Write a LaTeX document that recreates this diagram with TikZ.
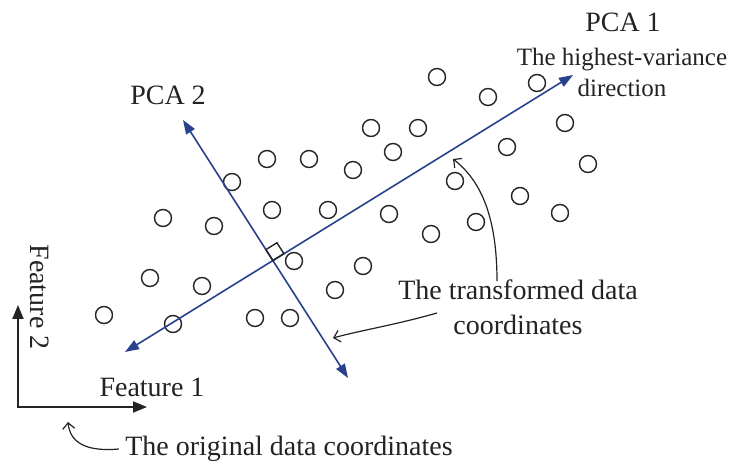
\documentclass[tikz,border=0pt]{standalone}
\usepackage{fontspec}
\setmainfont{Liberation Serif}
\usetikzlibrary{positioning,calc,intersections,arrows.meta}
\tikzset{>=stealth}
\definecolor{pcablue}{RGB}{38,66,140}
\definecolor{ink}{RGB}{35,35,35}
\tikzset{
  pt/.style={draw=ink,line width=0.7pt},
  pcaaxis/.style={pcablue,line width=0.8pt,{Triangle[length=7pt,width=5pt]}-{Triangle[length=7pt,width=5pt]}},
  featax/.style={ink,line width=1pt,{Triangle[length=7pt,width=5.5pt]}-{Triangle[length=7pt,width=5.5pt]}},
  note/.style={ink,line width=0.6pt,-{Straight Barb[length=3pt,width=6pt]}},
  lbl/.style={text=ink,font=\fontsize{14}{15.5}\selectfont,inner sep=0pt,align=center}
}
\begin{document}
\begin{tikzpicture}[x=0.5pt,y=-0.5pt]
\useasboundingbox (0,0) rectangle (735,465);
% Data points
\foreach \x/\y in {437/77,488/97,537/83,371/128,418/128,393/152,565/123,507/147,
                   267/159,309/159,353/170,588/164,455/181,232/182,520/196,
                   163/218,214/226,272/210,328/210,389/214,560/213,476/222,431/234,
                   150/278,202/286,294/261,363/266,335/290,104/315,173/324,255/318,290/318}
  \draw[pt] (\x,\y) circle[radius=4.25pt];
% PCA axes
\coordinate (a1) at (125,352);
\coordinate (b1) at (573,75);
\coordinate (a2) at (183,120);
\coordinate (b2) at (348,378);
\draw[pcaaxis,name path=pcaone] (a1) -- (b1);
\draw[pcaaxis,name path=pcatwo] (a2) -- (b2);
\path[name intersections={of=pcaone and pcatwo,by=o}];
% Right-angle mark
\coordinate (s1) at ($(o)!6.5pt!(b1)$);
\coordinate (s2) at ($(o)!6.5pt!(a2)$);
\draw[ink,line width=0.7pt] (o) -- (s1) -- ($(s1)+(s2)-(o)$) -- (s2) -- cycle;
% Original feature axes
\coordinate (org) at (18,407);
\coordinate (x1) at (147,407);
\coordinate (x2) at (18,305);
\draw[featax] (x2) -- (org) -- (x1);
% Labels
\node[lbl] (pca1) at (623,22) {PCA 1};
\node[lbl,font=\fontsize{12.5}{15.5}\selectfont] (hv) at (622,72) {The highest-variance\\direction};
\node[lbl] (pca2) at (168,95) {PCA 2};
\node[lbl] (td) at (518,307) {The transformed data\\[2pt]coordinates};
\node[lbl] (feat1) at (152,387) {Feature 1};
\node[lbl,rotate=-90] (feat2) at (40,297) {Feature 2};
\node[lbl] (od) at (289,449) {The original data coordinates};
% Pointers
\coordinate (t1) at (453,159);
\coordinate (c0) at (437,313);
\coordinate (t2) at (333,338);
\coordinate (t3) at (68,422);
\draw[note] ([xshift=-10.5pt,yshift=-1pt]td.north) .. controls (497,215) and (480,180) .. (t1);
\draw[note] (c0) .. controls (395,325) and (362,330) .. (t2);
\draw[note] ([xshift=-3pt]od.west) .. controls (85,452) and (70,442) .. (t3);
\end{tikzpicture}
\end{document}
